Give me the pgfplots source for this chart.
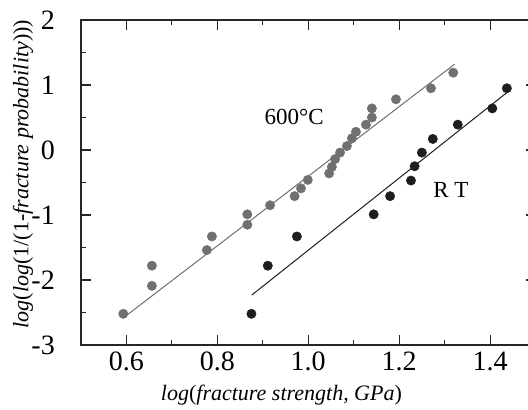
\documentclass[border=0pt]{standalone}
\usepackage{fontspec}
\setmainfont{Liberation Serif}
\usepackage{pgfplots}
\pgfplotsset{compat=1.18}
\definecolor{ptgray}{RGB}{112,112,112}
\definecolor{ptblack}{RGB}{30,30,30}
\begin{document}
\begin{tikzpicture}
\begin{axis}[
  scale only axis,
  width=454.5pt, height=325pt,
  xmin=0.5, xmax=1.5, ymin=-3, ymax=2,
  xtick={0.6,0.8,1.0,1.2,1.4},
  xticklabels={0.6,0.8,1.0,1.2,1.4},
  ytick={-3,-2,-1,0,1,2},
  yticklabels={-3,-2,-1,0,1,2},
  minor x tick num=1, minor y tick num=1,
  tick align=inside, tick pos=both,
  major tick length=10pt, minor tick length=5pt,
  axis line style={line width=1.1pt, black!85},
  every tick/.style={line width=1.1pt, black!85},
  tick label style={font=\fontsize{28}{32}\selectfont},
  xticklabel style={inner sep=0pt, yshift=-7pt},
  yticklabel style={inner sep=0pt, xshift=-26pt},
  xlabel={\textit{log}(\textit{fracture strength, GPa})},
  ylabel={\textit{log}(\textit{log}(1/(1-\textit{fracture probability})))},
  label style={font=\fontsize{22}{26}\selectfont},
  xlabel style={at={(axis description cs:0.441,-0.1538)}, anchor=center},
  ylabel style={at={(axis description cs:-0.1276,0.526)}, anchor=center},
]
\addplot[ptgray, line width=1pt] coordinates {(0.601,-2.54) (1.322,1.32)};
\addplot[ptblack, line width=1pt] coordinates {(0.876,-2.23) (1.440,0.90)};
\addplot[only marks, mark=*, mark size=4.7pt, ptgray, mark options={draw=none, fill=ptgray}] coordinates {
(0.593,-2.52) (0.656,-2.09) (0.656,-1.78) (0.777,-1.54) (0.788,-1.33)
(0.866,-1.15) (0.866,-0.99) (0.916,-0.85) (0.970,-0.71) (0.984,-0.59)
(0.999,-0.46) (1.046,-0.36) (1.052,-0.26) (1.059,-0.14) (1.070,-0.04)
(1.085,0.06) (1.096,0.18) (1.105,0.28) (1.127,0.39) (1.140,0.50)
(1.140,0.64) (1.193,0.78) (1.270,0.95) (1.319,1.19)
};
\addplot[only marks, mark=*, mark size=4.7pt, ptblack, mark options={draw=none, fill=ptblack}] coordinates {
(0.875,-2.52) (0.911,-1.78) (0.975,-1.33) (1.144,-0.99) (1.180,-0.71)
(1.226,-0.47) (1.234,-0.25) (1.250,-0.04) (1.274,0.17) (1.329,0.39)
(1.405,0.64) (1.437,0.95)
};
\node[font=\fontsize{23}{27}\selectfont] at (axis cs:0.969,0.51) {600°C};
\node[font=\fontsize{23}{27}\selectfont] at (axis cs:1.314,-0.615) {R T};
\end{axis}
\pgfresetboundingbox
\path (current axis.south west) ++(-81pt,-65pt) rectangle ++(528pt,410pt);
\end{tikzpicture}
\end{document}
